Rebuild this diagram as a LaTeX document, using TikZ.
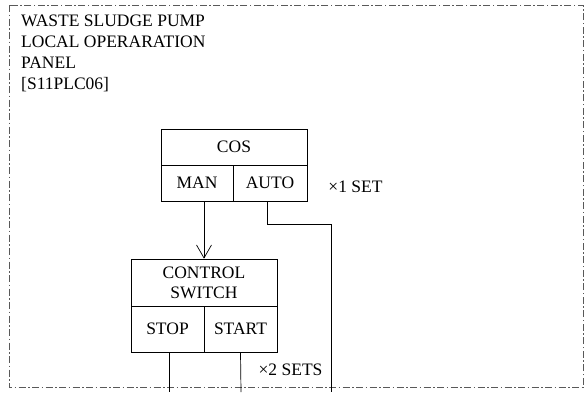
\documentclass[tikz,border=0pt]{standalone}
\usepackage{fontspec}
\setmainfont{Liberation Serif}
\usetikzlibrary{arrows.meta}

\tikzset{
  frame/.style={gray!70!black, line width=0.8pt, dash pattern=on 7pt off 2.5pt on 1.5pt off 2.5pt},
  cell/.style={draw, line width=0.7pt, inner sep=0pt, font=\fontsize{17.5}{20}\selectfont},
  lbl/.style={inner sep=0pt, font=\fontsize{17.5}{20}\selectfont},
  wire/.style={line width=0.7pt},
}

\begin{document}
\begin{tikzpicture}[x=1pt,y=-1pt]
\useasboundingbox (0,0) rectangle (585,392);

% Marco del panel
\draw[frame] (9,5) rectangle (583,387);

% Titulo
\node[anchor=north west, align=left, inner sep=0pt,
      font=\fontsize{17.5}{21}\selectfont] (title) at (21,14.5)
  {WASTE SLUDGE PUMP\\LOCAL OPERARATION\\PANEL\\{[S11PLC06]}};

% COS
\node[cell, minimum width=146, minimum height=36] (cos) at (234,147) {COS};
\node[cell, minimum width=72, minimum height=36] (man) at (197,183) {MAN};
\node[cell, minimum width=74, minimum height=36] (auto) at (270,183) {AUTO};
\node[lbl] (set1) at (355.5,187) {×1 SET};

% Control switch
\node[cell, minimum width=146, minimum height=47, align=center] (ctrl) at (204,282.5) {CONTROL\\SWITCH};
\node[cell, minimum width=73, minimum height=46] (stop) at (167.5,329) {STOP};
\node[cell, minimum width=73, minimum height=46] (start) at (240.5,329) {START};
\node[lbl] (set2) at (290.5,370) {×2 SETS};

% Lineas de salida
\coordinate (autoend) at (331,392);
\coordinate (stopend) at (169,392);
\coordinate (startend) at (241,392);

\draw[wire, -{Straight Barb[length=13pt,width=15pt]}] (man.south -| ctrl.north) -- (ctrl.north);
\draw[wire] ([xshift=-3pt]auto.south) -- ++(0,23) -| (autoend);
\draw[wire] ([xshift=1.5pt]stop.south) -- (stopend);
\draw[wire] (start.south) -- (startend);

\end{tikzpicture}
\end{document}
